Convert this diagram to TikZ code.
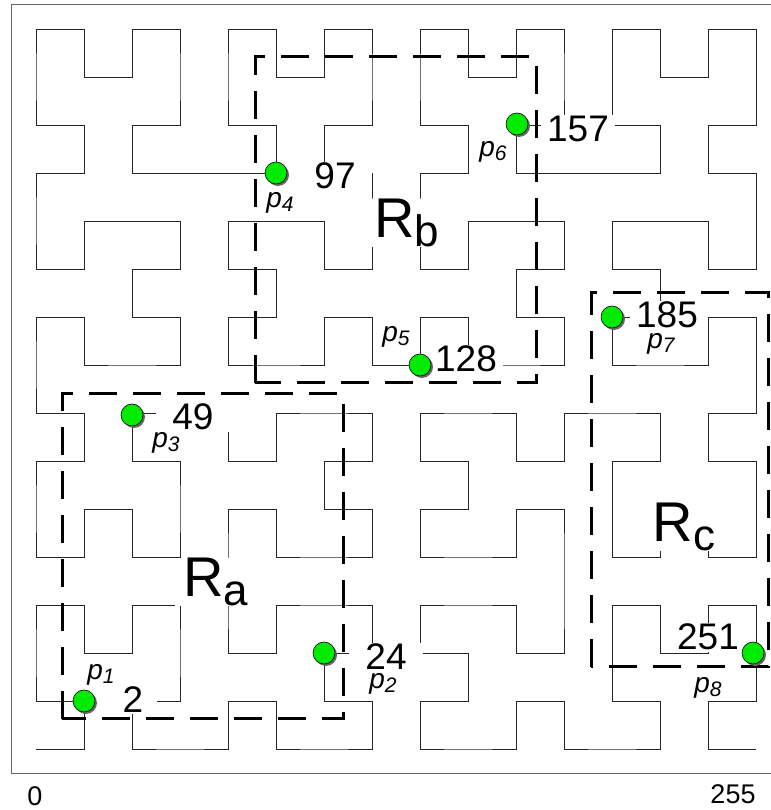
\documentclass[tikz,border=0pt]{standalone}
\usepackage{fontspec}
\setmainfont{Liberation Sans}
\usetikzlibrary{shadows}
% ---- Hilbert curve path generator (turtle) ----
\newcount\hdir \newcount\hx \newcount\hy
\gdef\hpath{}
\def\hF{\ifcase\hdir \advance\hx 1 \or \advance\hy 1 \or \advance\hx -1 \or \advance\hy -1 \fi
  \xdef\hpath{\hpath -- (\the\hx,\the\hy)}}
\def\hP{\advance\hdir 1 \ifnum\hdir>3 \advance\hdir -4 \fi}
\def\hM{\advance\hdir -1 \ifnum\hdir<0 \advance\hdir 4 \fi}
\def\hL#1{\ifnum#1>0 \hP\hR{\numexpr#1-1\relax}\hF\hM\hL{\numexpr#1-1\relax}\hF\hL{\numexpr#1-1\relax}\hM\hF\hR{\numexpr#1-1\relax}\hP\fi}
\def\hR#1{\ifnum#1>0 \hM\hL{\numexpr#1-1\relax}\hF\hP\hR{\numexpr#1-1\relax}\hF\hR{\numexpr#1-1\relax}\hP\hF\hL{\numexpr#1-1\relax}\hM\fi}
\hdir=0 \hx=0 \hy=0
\hL{4}
\definecolor{ptgreen}{RGB}{0,235,0}
\newcommand{\numfont}{\fontsize{37}{37}\selectfont}
\newcommand{\plab}[1]{{\fontsize{28}{28}\selectfont\itshape p\raisebox{-4pt}{\fontsize{21}{21}\selectfont #1}}}
\newcommand{\rlab}[1]{{\fontsize{56}{56}\selectfont R\raisebox{-9pt}{\fontsize{44}{44}\selectfont #1}}}
\begin{document}
\begin{tikzpicture}[x=1pt,y=1pt,
  curve/.style={draw=black!85,line width=0.9pt},
  region/.style={draw=black,line width=3pt,dash pattern=on 28pt off 16pt},
  numlab/.style={fill=white,inner xsep=2pt,inner ysep=1.5pt,minimum width=74pt,anchor=base,font=\numfont},
  plabel/.style={fill=white,inner sep=0pt,anchor=base},
  rlabel/.style={fill=white,inner xsep=9pt,inner ysep=0pt,anchor=base},
  greendot/.style={circle,minimum size=22pt,inner sep=0pt,fill=ptgreen,draw=black,line width=0.6pt,
    drop shadow={shadow xshift=2pt,shadow yshift=-2pt,fill=black!60,opacity=1}}]
\useasboundingbox (0,0) rectangle (770,810);
% frame
\draw[black!60,line width=0.8pt] (11,37) rectangle (772,806);
% Hilbert curve (order 4, 16 x 16 grid, step 48)
\draw[curve,xshift=36pt,yshift=61pt,x=48pt,y=48pt] (0,0) \hpath;
% value labels
\node[numlab,minimum width=47pt] (n2) at (133,97) {2};
\node[numlab] (n24) at (386,140) {24};
\node[numlab] (n49) at (193,380) {49};
\node[numlab] (n97) at (335,621) {97};
\node[numlab] (n128) at (466,438) {128};
\node[numlab] (n157) at (578,668) {157};
\node[numlab] (n185) at (667,482) {185};
\node[numlab,minimum width=70pt] (n251) at (708,160) {251};
\node[numlab,minimum width=0pt,font=\fontsize{27}{27}\selectfont] (n0) at (35,5) {0};
\node[numlab,minimum width=0pt,font=\fontsize{27}{27}\selectfont] (n255) at (733,6) {255};
% point labels
\node[plabel] (l1) at (101,130) {\plab{1}};
\node[plabel] (l2) at (383,121) {\plab{2}};
\node[plabel] (l3) at (166,362) {\plab{3}};
\node[plabel] (l4) at (280,602) {\plab{4}};
\node[plabel] (l5) at (396,468) {\plab{5}};
\node[plabel] (l6) at (493,653) {\plab{6}};
\node[plabel] (l7) at (661,461) {\plab{7}};
\node[plabel] (l8) at (708,117) {\plab{8}};
% region labels
\node[rlabel] (ra) at (216,213) {\rlab{a}};
\node[rlabel] (rb) at (407,572) {\rlab{b}};
\node[rlabel] (rc) at (684,268) {\rlab{c}};
% regions
\draw[region] (62,91) rectangle (343,416);
\draw[region] (255,427) rectangle (536,753);
\draw[region] (591,143) rectangle (768,517);
% points
\node[greendot] (p1) at (84,109) {};
\node[greendot] (p2) at (324,157) {};
\node[greendot] (p3) at (132,395) {};
\node[greendot] (p4) at (276,637) {};
\node[greendot] (p5) at (420,445) {};
\node[greendot] (p6) at (517,686) {};
\node[greendot] (p7) at (612,493) {};
\node[greendot] (p8) at (753,157) {};
\end{tikzpicture}
\end{document}
